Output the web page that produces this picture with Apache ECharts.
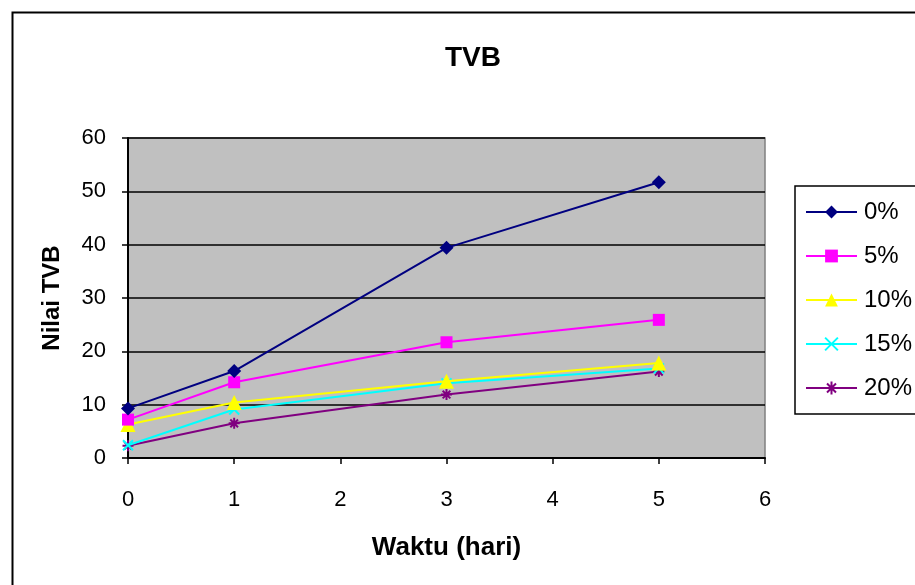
<!DOCTYPE html>
<html>
<head>
<meta charset="utf-8">
<script src="https://cdn.jsdelivr.net/npm/echarts@6/dist/echarts.min.js"></script>
<style>
html,body{margin:0;padding:0;background:#fff;}
#chart{width:915px;height:585px;}
</style>
</head>
<body>
<div id="chart"></div>
<script>
const titleText = 'TVB';
const xName = 'Waktu (hari)';
const yName = 'Nilai TVB';
const days = [0, 1, 3, 5];
const seriesNames = ['0%', '5%', '10%', '15%', '20%'];
const s0 = [9.3, 16.3, 39.4, 51.7];
const s5 = [7.2, 14.2, 21.7, 25.9];
const s10 = [6.3, 10.4, 14.4, 17.8];
const s15 = [2.4, 9.1, 14.0, 16.8];
const s20 = [2.3, 6.5, 11.9, 16.2];
const colors = ['#000080', '#FF00FF', '#FFFF00', '#00FFFF', '#800080'];
const symbols = ['diamond', 'rect', 'triangle',
  'path://M0,0L10,10M10,0L0,10',
  'path://M0,5L10,5M5,0L5,10M1.5,1.5L8.5,8.5M8.5,1.5L1.5,8.5'];
const symbolSizes = [14, 12, 15, 10, 11];
const allValues = [s0, s5, s10, s15, s20];

const font = '"Liberation Sans", Arial, sans-serif';

const series = allValues.map((vals, i) => ({
  name: seriesNames[i],
  type: 'line',
  data: days.map((d, j) => [d, vals[j]]),
  symbol: symbols[i],
  symbolSize: symbolSizes[i],
  showSymbol: true,
  lineStyle: { color: colors[i], width: 2 },
  itemStyle: { color: colors[i], borderColor: colors[i], borderWidth: i >= 3 ? 2 : 0 },
  emphasis: { disabled: true },
  animation: false,
  z: 10 - i
}));

const chart = echarts.init(document.getElementById('chart'));
chart.setOption({
  animation: false,
  backgroundColor: '#ffffff',
  textStyle: { fontFamily: font },
  title: {
    text: titleText,
    left: 468, textAlign: 'center', top: 39,
    textStyle: { fontFamily: font, fontSize: 28, fontWeight: 'bold', color: '#000' }
  },
  graphic: [{
    type: 'rect', left: 10, top: 10, silent: true, z: -1,
    shape: { width: 1000, height: 1000 },
    style: { fill: 'none', stroke: '#000', lineWidth: 2 }
  }],
  legend: {
    orient: 'vertical',
    left: 795, top: 186,
    padding: [14, 60, 14, 10],
    itemWidth: 51, itemHeight: 16, itemGap: 20,
    backgroundColor: '#fff',
    borderColor: '#000', borderWidth: 1.5,
    textStyle: { fontFamily: font, fontSize: 24, color: '#000', lineHeight: 24, padding: [0, 0, 0, 2] },
    data: seriesNames
  },
  grid: {
    left: 128, right: 150, top: 138, bottom: 127,
    show: true, backgroundColor: '#C0C0C0', borderColor: '#808080', borderWidth: 1.5
  },
  xAxis: {
    type: 'value', min: 0, max: 6, interval: 1,
    name: xName, nameLocation: 'middle', nameGap: 77,
    nameTextStyle: { fontFamily: font, fontSize: 26, fontWeight: 'bold', color: '#000' },
    axisLine: { show: true, onZero: false, lineStyle: { color: '#000', width: 2 } },
    axisTick: { show: true, length: 6, lineStyle: { color: '#000', width: 1.5 } },
    axisLabel: { fontFamily: font, fontSize: 22, color: '#000', margin: 31 },
    splitLine: { show: false }
  },
  yAxis: {
    type: 'value', min: 0, max: 60, interval: 10,
    name: yName, nameLocation: 'middle', nameGap: 64,
    nameTextStyle: { fontFamily: font, fontSize: 24, fontWeight: 'bold', color: '#000' },
    axisLine: { show: true, lineStyle: { color: '#000', width: 2 } },
    axisTick: { show: true, length: 6, lineStyle: { color: '#000', width: 1.5 } },
    axisLabel: { fontFamily: font, fontSize: 22, color: '#000', margin: 22 },
    splitLine: { show: true, lineStyle: { color: '#000', width: 1.5 } }
  },
  series: series
});
</script>
</body>
</html>
